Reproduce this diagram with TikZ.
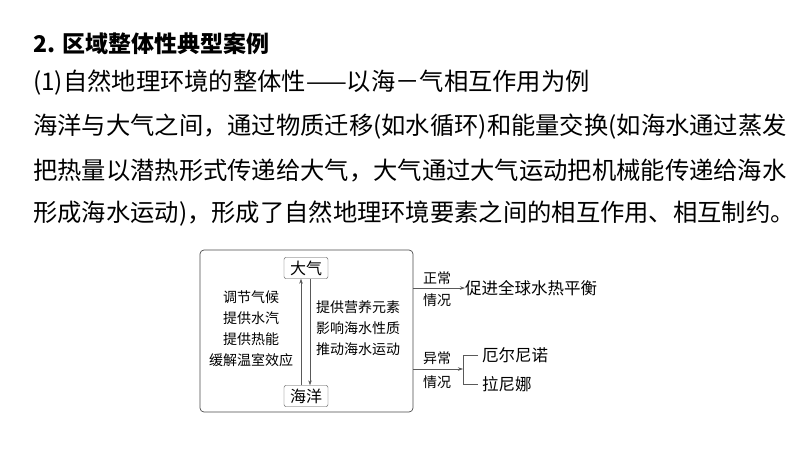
\documentclass[tikz,border=0pt]{standalone}
\usepackage{fontspec}
\setmainfont{Noto Sans CJK SC}
\usetikzlibrary{arrows.meta}
\tikzset{
 para/.style={anchor=west,inner sep=0pt,font=\fontsize{24.3}{24}\selectfont},
 small/.style={inner sep=0pt,font=\fontsize{14}{14}\selectfont},
 mid/.style={inner sep=0pt,font=\fontsize{16.5}{16.5}\selectfont},
 kbox/.style={draw=black!70,rounded corners=2pt,minimum width=44pt,minimum height=21pt,inner sep=1pt,font=\fontsize{16}{16}\selectfont},
 ln/.style={draw=black!65,line width=0.6pt},
 arr/.style={ln,-{Stealth[length=5pt,width=3.5pt]}}
}
\begin{document}
\begin{tikzpicture}[x=1pt,y=-1pt]
\useasboundingbox[fill=white] (0,0) rectangle (800,450);
\node[para,font=\fontsize{23}{23}\selectfont\bfseries] (t) at (33,44) {2. 区域整体性典型案例};
\node[para] (l1) at (33,83) {(1)自然地理环境的整体性——以海－气相互作用为例};
\node[para] (l2) at (33,127) {海洋与大气之间，通过物质迁移(如水循环)和能量交换(如海水通过蒸发};
\node[para] (l3) at (33,171) {把热量以潜热形式传递给大气，大气通过大气运动把机械能传递给海水};
\node[para] (l4) at (33,214) {形成海水运动)，形成了自然地理环境要素之间的相互作用、相互制约。};
\node[draw=black!70,rounded corners=4pt,line width=0.7pt,minimum width=213pt,minimum height=162pt] (frame) at (306.5,331) {};
\node[kbox] (air) at (306,268) {大气};
\node[kbox] (sea) at (306,396) {海洋};
\draw[arr] (sea.north-|301,0) -- (air.south-|301,0);
\draw[arr] (air.south-|310,0) -- (sea.north-|310,0);
\node[small,align=center] (lt) at (251,329) {调节气候\\[7pt]提供水汽\\[7pt]提供热能\\[7pt]缓解温室效应};
\node[small,align=left,anchor=west] (rt) at (316,328) {提供营养元素\\[7pt]影响海水性质\\[7pt]推动海水运动};
\node[small] (n1) at (437,278) {正常};
\node[small] (n2) at (437,300) {情况};
\node[small] (a1) at (437,358) {异常};
\node[small] (a2) at (437,382) {情况};
\node[mid,anchor=west] (bal) at (465,288) {促进全球水热平衡};
\coordinate (j) at (463,369);
\node[mid,anchor=west] (en) at (482,355) {厄尔尼诺};
\node[mid,anchor=west] (ln) at (482,384) {拉尼娜};
\draw[arr] (frame.east|-bal) -- (bal.west);
\draw[arr] (frame.east|-j) -- (j);
\draw[ln] (en.west-|478,0) -- (en.west-|463,0) -- (ln.west-|463,0) -- (ln.west-|478,0);
\end{tikzpicture}
\end{document}
